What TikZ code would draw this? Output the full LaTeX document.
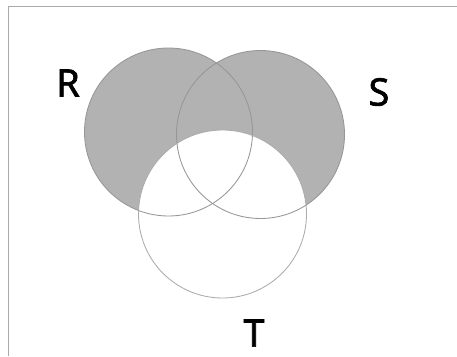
\documentclass[tikz,border=0pt]{standalone}
\usepackage{xcolor,tikz}
\usepackage{fontspec}
\setmainfont{Noto Sans}
\newfontfamily\labelfont[FakeBold=1.6]{Noto Sans}

\definecolor{setgray}{RGB}{178,178,178}
\definecolor{rimgray}{RGB}{150,150,150}
\definecolor{framegray}{RGB}{170,170,170}

\tikzset{
	rim/.style={draw=rimgray, line width=0.6pt},
	setlabel/.style={font=\labelfont\fontsize{27}{30}\selectfont, inner sep=0pt}
}

\begin{document}
\begin{tikzpicture}[x=0.025cm, y=0.025cm]
			\useasboundingbox (0,0) rectangle (457,356);
			\coordinate (cR) at (168.5,224);
			\coordinate (cS) at (260.5,221.5);
			\coordinate (cT) at (222.5,142);
			% frame
			\draw[framegray, line width=0.7pt] (8,0) -- (8,350) -- (457,350);
			% shaded part: R or S, but not T
			\fill[setgray] (cR) circle (84);
			\fill[setgray] (cS) circle (84);
			\fill[white] (cT) circle (84);
			\draw[rim] (cR) circle (84);
			\draw[rim] (cS) circle (84);
			\draw[rim, draw=rimgray!80] (cT) circle (84);
			\node[setlabel] (R) at (68,273) {R};
			\node[setlabel] (S) at (379,264) {S};
			\node[setlabel] (T) at (254,23) {T};
		\end{tikzpicture}
\end{document}
